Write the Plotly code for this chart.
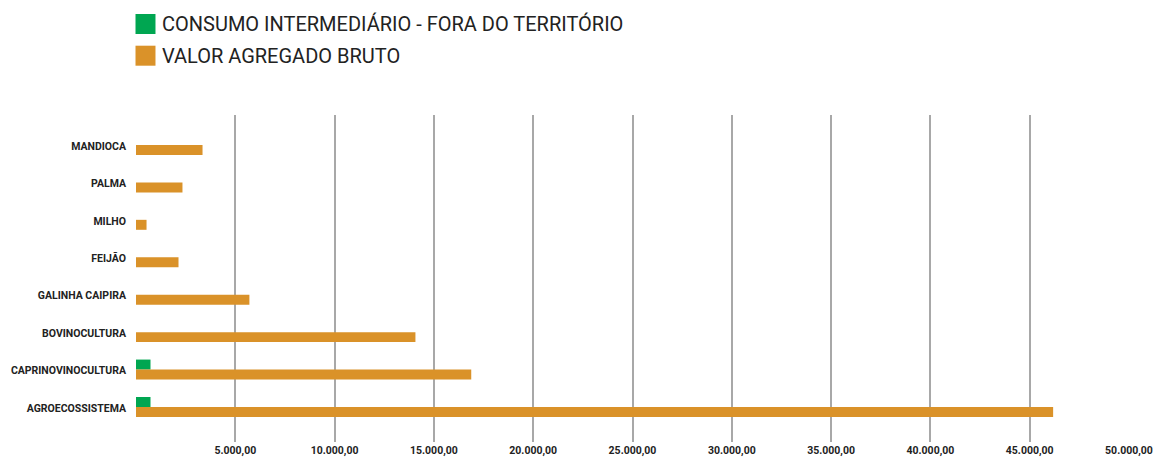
import plotly.graph_objects as go

# Categories listed top to bottom
categorias = ["MANDIOCA", "PALMA", "MILHO", "FEIJÃO", "GALINHA CAIPIRA",
              "BOVINOCULTURA", "CAPRINOVINOCULTURA", "AGROECOSSISTEMA"]

consumo_fora = [0, 0, 0, 0, 0, 0, 730, 730]
valor_agregado = [3350, 2340, 530, 2140, 5710, 14070, 16880, 46180]

x_ticks = [0, 5000, 10000, 15000, 20000, 25000, 30000, 35000, 40000, 45000, 50000]
x_ticktext = ["", "5.000,00", "10.000,00", "15.000,00", "20.000,00", "25.000,00",
              "30.000,00", "35.000,00", "40.000,00", "45.000,00", "50.000,00"]

nome_consumo = "CONSUMO INTERMEDIÁRIO - FORA DO TERRITÓRIO"
nome_valor = "VALOR AGREGADO BRUTO"
cor_consumo = "#00A651"
cor_valor = "#DA9229"

W, H = 1153, 459
ml, mr, mt, mb = 135.5, 24, 115, 17
pw, ph = W - ml - mr, H - mt - mb


def px_x(x):
    return (x - ml) / pw


def px_y(y):
    return (H - mb - y) / ph


fig = go.Figure()
fig.add_trace(go.Bar(y=categorias, x=consumo_fora, orientation="h",
                     marker=dict(color=cor_consumo, line=dict(width=0)),
                     name=nome_consumo))
fig.add_trace(go.Bar(y=categorias, x=valor_agregado, orientation="h",
                     marker=dict(color=cor_valor, line=dict(width=0)),
                     name=nome_valor))

# Legend drawn as square swatches with text beside them
shapes = []
annotations = []
for i, (nome, cor) in enumerate([(nome_consumo, cor_consumo), (nome_valor, cor_valor)]):
    top = 14 + i * 31.7
    shapes.append(dict(type="rect", xref="paper", yref="paper",
                       x0=px_x(135), x1=px_x(155), y0=px_y(top + 20), y1=px_y(top),
                       fillcolor=cor, line=dict(width=0)))
    annotations.append(dict(xref="paper", yref="paper", x=px_x(160), y=px_y(top + 10.5),
                            xanchor="left", yanchor="middle", showarrow=False,
                            text=nome, font=dict(family="Roboto", size=20, color="#222222")))

fig.update_layout(
    width=W, height=H,
    margin=dict(l=ml, r=mr, t=mt, b=mb, pad=0),
    paper_bgcolor="white", plot_bgcolor="white",
    barmode="group", bargap=0.466, bargroupgap=0,
    showlegend=False,
    shapes=shapes, annotations=annotations,
    xaxis=dict(range=[0, 50000], tickmode="array", tickvals=x_ticks, ticktext=x_ticktext,
               showgrid=True, gridcolor="#A8A8A8", gridwidth=1.6, zeroline=False,
               showline=False, ticks="", ticklabelstandoff=0, automargin=False,
               tickfont=dict(family="Roboto", size=10.5, color="#222222", weight="bold")),
    yaxis=dict(type="category", categoryorder="array", categoryarray=categorias,
               range=[7.935, -0.80], showgrid=False, zeroline=False, showline=False,
               ticks="", ticklabelstandoff=9, ticklabelshift=-1, automargin=False,
               tickfont=dict(family="Roboto", size=10.5, color="#222222", weight="bold")),
)

fig.write_html("out.html")
